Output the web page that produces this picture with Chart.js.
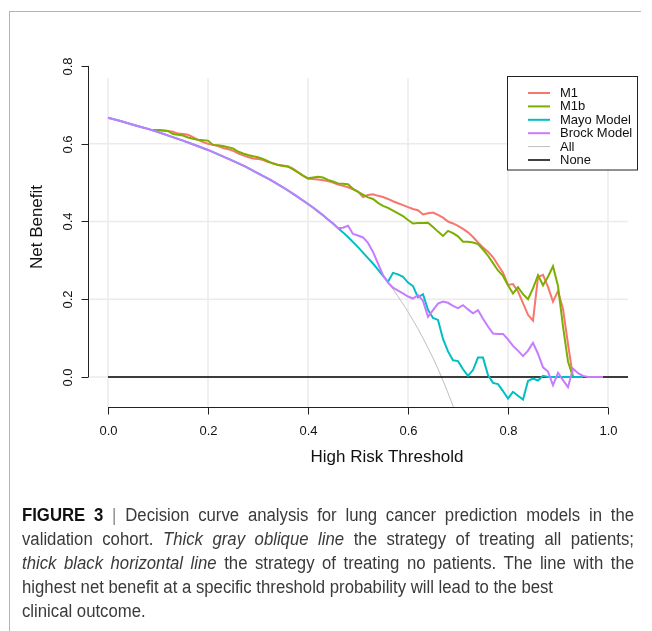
<!DOCTYPE html>
<html><head><meta charset="utf-8">
<script src="https://cdn.jsdelivr.net/npm/chart.js@4.4.1/dist/chart.umd.min.js"></script>
<style>
html,body{margin:0;padding:0;background:#fff;}
#wrap{position:relative;width:652px;height:631px;overflow:hidden;background:#fff;}
#c{position:absolute;left:0;top:0;}
#frameTop{position:absolute;left:9px;top:11px;width:632px;height:1px;background:#b4b4b4;}
#frameLeft{position:absolute;left:9px;top:11px;width:1px;height:620px;background:#b4b4b4;}
#caption{position:absolute;left:22px;top:503px;font-family:"Liberation Sans Narrow","Liberation Sans",Arial,sans-serif;font-size:18px;line-height:24px;color:#3a3a3a;transform-origin:0 0;}
#caption .ln{white-space:nowrap;display:block;}
#caption .in{display:inline-block;white-space:nowrap;}
#caption b{color:#111;}
#caption .bar{color:#888;}
</style></head>
<body><div id="wrap">
<canvas id="c" width="652" height="631"></canvas>
<div id="frameTop"></div><div id="frameLeft"></div>
<div id="caption">
<div class="ln j"><span class="in"><b>FIGURE 3</b> <span class="bar">|</span> Decision curve analysis for lung cancer prediction models in the</span></div>
<div class="ln j"><span class="in">validation cohort. <i>Thick gray oblique line</i> the strategy of treating all patients;</span></div>
<div class="ln j"><span class="in"><i>thick black horizontal line</i> the strategy of treating no patients. The line with the</span></div>
<div class="ln"><span class="in" id="refLine">highest net benefit at a specific threshold probability will lead to the best</span></div>
<div class="ln"><span class="in">clinical outcome.</span></div>
</div>
</div>
<script>
// ---------- data ----------
const xTickLabels = ["0.0","0.2","0.4","0.6","0.8","1.0"];
const xTickValues = [0, 0.2, 0.4, 0.6, 0.8, 1.0];
const yTickLabels = ["0.0","0.2","0.4","0.6","0.8"];
const yTickValues = [0, 0.2, 0.4, 0.6, 0.8];

const seriesNames = ["M1","M1b","Mayo Model","Brock Model","All","None"];

const modelThresholds = [0.09,0.10,0.11,0.12,0.13,0.14,0.15,0.16,0.17,0.18,0.19,0.20,0.21,0.22,0.23,0.24,0.25,0.26,0.27,0.28,0.29,0.30,0.31,0.32,0.33,0.34,0.35,0.36,0.37,0.38,0.39,0.40,0.41,0.42,0.43,0.44,0.45,0.46,0.47,0.48,0.49,0.50,0.51,0.52,0.53,0.54,0.55,0.56,0.57,0.58,0.59,0.60,0.61,0.62,0.63,0.64,0.65,0.66,0.67,0.68,0.69,0.70,0.71,0.72,0.73,0.74,0.75,0.76,0.77,0.78,0.79,0.80,0.81,0.82,0.83,0.84,0.85,0.86,0.87,0.88,0.89,0.90,0.91,0.92,0.93];

const m1Values = [0.635,0.635,0.634,0.633,0.631,0.626,0.625,0.623,0.617,0.610,0.604,0.600,0.597,0.594,0.589,0.586,0.582,0.575,0.570,0.566,0.562,0.561,0.558,0.553,0.550,0.546,0.544,0.542,0.536,0.527,0.518,0.510,0.509,0.508,0.506,0.504,0.500,0.495,0.492,0.488,0.483,0.477,0.463,0.468,0.470,0.466,0.463,0.458,0.452,0.447,0.442,0.437,0.432,0.429,0.418,0.421,0.423,0.417,0.410,0.400,0.395,0.389,0.381,0.372,0.360,0.346,0.333,0.322,0.308,0.288,0.268,0.237,0.239,0.220,0.190,0.160,0.145,0.257,0.263,0.232,0.194,0.221,0.175,0.085,0.000];

const m1bValues = [0.635,0.635,0.634,0.633,0.625,0.623,0.621,0.616,0.613,0.610,0.609,0.608,0.597,0.596,0.594,0.591,0.588,0.580,0.575,0.571,0.568,0.565,0.561,0.555,0.549,0.545,0.543,0.541,0.534,0.526,0.518,0.511,0.513,0.515,0.513,0.507,0.503,0.498,0.497,0.496,0.484,0.476,0.469,0.462,0.458,0.448,0.440,0.435,0.428,0.421,0.414,0.404,0.395,0.396,0.396,0.397,0.386,0.374,0.363,0.376,0.370,0.362,0.348,0.348,0.346,0.342,0.328,0.312,0.293,0.274,0.260,0.236,0.215,0.231,0.213,0.200,0.228,0.262,0.236,0.258,0.285,0.234,0.130,0.040,0.000];

const mayoThresholds = [0,0.025,0.05,0.075,0.10,0.125,0.15,0.175,0.20,0.225,0.25,0.275,0.30,0.325,0.35,0.375,0.40,0.41,0.42,0.43,0.44,0.45,0.46,0.47,0.48,0.49,0.50,0.51,0.52,0.53,0.54,0.55,0.56,0.57,0.58,0.59,0.60,0.61,0.62,0.63,0.64,0.65,0.66,0.67,0.68,0.69,0.70,0.71,0.72,0.73,0.74,0.75,0.76,0.77,0.78,0.79,0.80,0.81,0.82,0.83,0.84,0.85,0.86,0.87,0.88,0.89,0.90,0.91,0.92,0.93,0.94,0.95];
const mayoValues = [0.667,0.6585,0.649,0.640,0.630,0.619,0.608,0.596,0.584,0.570,0.556,0.541,0.524,0.507,0.488,0.467,0.445,0.436,0.426,0.416,0.405,0.395,0.383,0.372,0.360,0.347,0.334,0.320,0.306,0.292,0.276,0.260,0.245,0.268,0.264,0.258,0.243,0.234,0.205,0.213,0.173,0.152,0.147,0.098,0.066,0.043,0.041,0.020,0.003,0.018,0.050,0.050,0.005,-0.015,-0.018,-0.036,-0.055,-0.038,-0.048,-0.058,-0.010,-0.004,-0.009,0.003,0.000,0.000,0.000,0.000,0.000,0.000,0.000,0.000];

const brockThresholds = [0,0.025,0.05,0.075,0.10,0.125,0.15,0.175,0.20,0.225,0.25,0.275,0.30,0.325,0.35,0.375,0.40,0.41,0.42,0.43,0.44,0.45,0.46,0.47,0.48,0.49,0.50,0.51,0.52,0.53,0.54,0.55,0.56,0.57,0.58,0.59,0.60,0.61,0.62,0.63,0.64,0.65,0.66,0.67,0.68,0.69,0.70,0.71,0.72,0.73,0.74,0.75,0.76,0.77,0.78,0.79,0.80,0.81,0.82,0.83,0.84,0.85,0.86,0.87,0.88,0.89,0.90,0.91,0.92,0.93,0.94,0.95,0.96,0.97,0.98,0.99];
const brockValues = [0.667,0.6585,0.649,0.640,0.630,0.619,0.608,0.596,0.584,0.570,0.556,0.541,0.524,0.507,0.488,0.467,0.445,0.436,0.426,0.416,0.405,0.395,0.383,0.384,0.389,0.368,0.364,0.359,0.345,0.322,0.292,0.262,0.243,0.230,0.222,0.215,0.207,0.202,0.211,0.196,0.155,0.172,0.189,0.194,0.191,0.183,0.177,0.185,0.174,0.164,0.172,0.150,0.130,0.112,0.111,0.111,0.097,0.080,0.068,0.054,0.068,0.088,0.060,0.025,0.014,-0.021,0.011,-0.008,-0.026,0.022,0.010,0.003,0.000,0.000,0.000,0.000];

const allThresholds = [0,0.025,0.05,0.075,0.10,0.125,0.15,0.175,0.20,0.225,0.25,0.275,0.30,0.325,0.35,0.375,0.40,0.41,0.42,0.43,0.44,0.45,0.46,0.47,0.48,0.49,0.50,0.51,0.52,0.53,0.54,0.55,0.56,0.57,0.58,0.59,0.60,0.61,0.62,0.63,0.64,0.65,0.66,0.67,0.68,0.69,0.70];
const allValues = [0.667,0.6585,0.649,0.640,0.630,0.619,0.608,0.596,0.584,0.570,0.556,0.541,0.524,0.507,0.488,0.467,0.445,0.436,0.426,0.416,0.405,0.395,0.383,0.372,0.360,0.347,0.334,0.320,0.306,0.292,0.276,0.260,0.243,0.226,0.207,0.188,0.168,0.146,0.124,0.100,0.075,0.049,0.021,-0.009,-0.041,-0.074,-0.110];

const noneThresholds = [0, 1.04];
const noneValues = [0, 0];

// ---------- chart ----------
const COLORS = ["#F8766D","#7CAE00","#00BFC4","#C77CFF","#BEBEBE","#000000"];
const WIDTHS = [2,2,2,2,1,1.5];
const FONT = '"Liberation Sans", Arial, Helvetica, sans-serif';
function pts(xs, ys){ return xs.map((t,i)=>({x:t, y:ys[i]})); }

const seriesData = [
  pts(modelThresholds, m1Values),
  pts(modelThresholds, m1bValues),
  pts(mayoThresholds, mayoValues),
  pts(brockThresholds, brockValues),
  pts(allThresholds, allValues),
  pts(noneThresholds, noneValues)
];
const drawOrder = [4,3,2,1,6,5]; // higher = drawn earlier (underneath)

const datasets = seriesNames.map((n,i)=>({
  label:n, data:seriesData[i], borderColor:COLORS[i], backgroundColor:COLORS[i],
  borderWidth:WIDTHS[i], pointRadius:0, tension:0, fill:false, order:drawOrder[i]
}));

const rPlot = {
  id:'rPlot',
  beforeDatasetsDraw(chart){
    const {ctx, chartArea:a, scales:{x,y}} = chart;
    ctx.save();
    ctx.strokeStyle = '#ebebeb'; ctx.lineWidth = 1.5;
    xTickValues.forEach(v=>{ const px=x.getPixelForValue(v); ctx.beginPath(); ctx.moveTo(px,a.top); ctx.lineTo(px,a.bottom); ctx.stroke(); });
    yTickValues.forEach(v=>{ const py=y.getPixelForValue(v); if(py<a.top) return; ctx.beginPath(); ctx.moveTo(a.left,py); ctx.lineTo(a.right,py); ctx.stroke(); });
    ctx.restore();
  },
  afterDatasetsDraw(chart){
    const {ctx, chartArea:a, scales:{x,y}} = chart;
    ctx.save();
    ctx.strokeStyle = '#222'; ctx.lineWidth = 1; ctx.fillStyle = '#111';
    // x axis
    const xb = a.bottom + 0.5;
    ctx.beginPath(); ctx.moveTo(x.getPixelForValue(xTickValues[0]), xb); ctx.lineTo(x.getPixelForValue(xTickValues[xTickValues.length-1]), xb); ctx.stroke();
    ctx.font = '13px ' + FONT; ctx.textAlign='center'; ctx.textBaseline='middle';
    xTickValues.forEach((v,i)=>{ const px=Math.round(x.getPixelForValue(v))+0.5; ctx.beginPath(); ctx.moveTo(px,xb); ctx.lineTo(px,xb+7); ctx.stroke(); ctx.fillText(xTickLabels[i], px, a.bottom+24); });
    // y axis
    const yl = a.left + 0.5;
    ctx.beginPath(); ctx.moveTo(yl, y.getPixelForValue(yTickValues[0])); ctx.lineTo(yl, y.getPixelForValue(yTickValues[yTickValues.length-1])); ctx.stroke();
    yTickValues.forEach((v,i)=>{ const py=Math.round(y.getPixelForValue(v))+0.5; ctx.beginPath(); ctx.moveTo(yl,py); ctx.lineTo(yl-7,py); ctx.stroke();
      ctx.save(); ctx.translate(a.left-16.5, py); ctx.rotate(-Math.PI/2); ctx.textAlign='center'; ctx.textBaseline='alphabetic'; ctx.fillText(yTickLabels[i],0,0); ctx.restore(); });
    // axis titles
    ctx.font = '17px ' + FONT; ctx.textAlign='center'; ctx.textBaseline='middle';
    ctx.fillText('High Risk Threshold', 387, a.bottom+50);
    ctx.save(); ctx.translate(37.5, 227); ctx.rotate(-Math.PI/2); ctx.fillText('Net Benefit',0,0); ctx.restore();
    // legend
    const bx = a.right - 121, by = a.top - 2, bw = 130, bh = 93.5;
    ctx.fillStyle='#fff'; ctx.fillRect(bx,by,bw,bh);
    ctx.strokeStyle='#222'; ctx.lineWidth=1; ctx.strokeRect(bx+0.5,by+0.5,bw,bh);
    ctx.font='13px ' + FONT; ctx.textAlign='left'; ctx.textBaseline='middle';
    chart.data.datasets.forEach((ds,i)=>{
      const ly = by + 17 + i*13.4;
      ctx.strokeStyle = ds.borderColor; ctx.lineWidth = ds.borderWidth;
      ctx.beginPath(); ctx.moveTo(bx+21, ly); ctx.lineTo(bx+43, ly); ctx.stroke();
      ctx.fillStyle='#111'; ctx.fillText(ds.label, bx+53, ly+0.5);
    });
    ctx.restore();
  }
};

new Chart(document.getElementById('c'), {
  type:'line',
  data:{datasets},
  options:{
    responsive:false, animation:false, devicePixelRatio:1,
    layout:{padding:{left:88, right:24, top:78, bottom:224}},
    plugins:{legend:{display:false}, tooltip:{enabled:false}},
    scales:{
      x:{type:'linear', min:-0.04, max:1.04, display:false},
      y:{type:'linear', min:-0.077, max:0.769, display:false}
    }
  },
  plugins:[rPlot]
});

// caption: scale to reference width, justify first three lines
(function(){
  const cap = document.getElementById('caption');
  const ref = document.getElementById('refLine');
  const s = 531 / ref.getBoundingClientRect().width;
  cap.style.transform = 'scaleX(' + s + ')';
  const target = 612 / s;
  cap.querySelectorAll('.j .in').forEach(sp=>{
    const w = sp.getBoundingClientRect().width / s;
    const n = (sp.textContent.match(/ /g)||[]).length;
    if(n>0) sp.style.wordSpacing = ((target - w)/n) + 'px';
  });
})();
</script>
</body></html>
